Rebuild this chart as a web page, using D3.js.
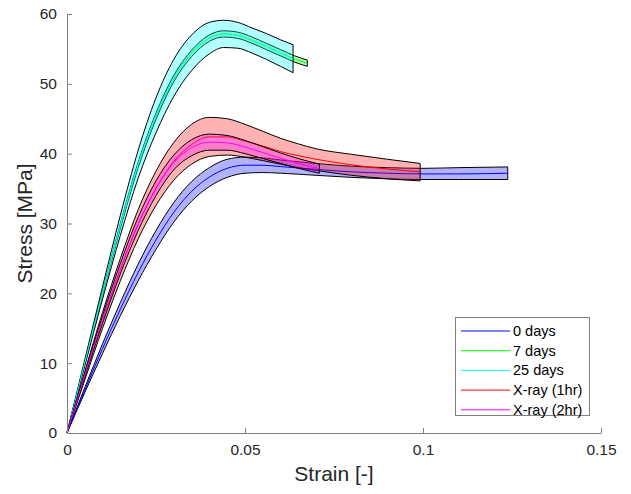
<!DOCTYPE html>
<html>
<head>
<meta charset="utf-8">
<script src="https://cdn.jsdelivr.net/npm/d3@7"></script>
<style>
  body { margin: 0; background: #fff; }
  text { font-family: "Liberation Sans", Arial, sans-serif; }
</style>
</head>
<body>
<div id="chart"></div>
<script>
// ---- data ----
const seriesNames = ["0 days", "7 days", "25 days", "X-ray (1hr)", "X-ray (2hr)"];
const seriesColors = ["#0000ff", "#00ff00", "#00ffff", "#ff0000", "#ff00ff"];

// 0 days
const strain0 = [0, 0.005, 0.01, 0.015, 0.02, 0.025, 0.03, 0.035, 0.04, 0.045, 0.05, 0.055, 0.06, 0.07, 0.08, 0.09, 0.1, 0.11, 0.1238];
const upper0  = [0, 6.5, 12.8, 18.7, 24.2, 29, 33, 36, 38, 39.2, 39.5, 39.4, 39.1, 38.6, 38.2, 38, 37.9, 38, 38.1];
const mean0   = [0, 6.15, 12.1, 17.75, 23, 27.65, 31.6, 34.6, 36.65, 37.9, 38.35, 38.35, 38.15, 37.75, 37.4, 37.2, 37.1, 37.1, 37.2];
const lower0  = [0, 5.8, 11.4, 16.8, 21.8, 26.3, 30.2, 33.2, 35.3, 36.6, 37.2, 37.3, 37.2, 36.9, 36.6, 36.4, 36.3, 36.3, 36.3];

// 7 days
const strain7 = [0, 0.005, 0.01, 0.015, 0.02, 0.025, 0.03, 0.035, 0.04, 0.044, 0.048, 0.052, 0.056, 0.06, 0.064, 0.0675];
const upper7  = [0, 10.2, 20.3, 30, 38.8, 45.8, 51.2, 54.8, 57, 57.6, 57.4, 56.7, 55.8, 54.9, 54, 53.4];
const mean7   = [0, 10.1, 20.05, 29.65, 38.4, 45.35, 50.75, 54.35, 56.55, 57.15, 56.95, 56.25, 55.35, 54.45, 53.55, 52.95];
const lower7  = [0, 10, 19.8, 29.3, 38, 44.9, 50.3, 53.9, 56.1, 56.7, 56.5, 55.8, 54.9, 54, 53.1, 52.5];

// 25 days
const strain25 = [0, 0.005, 0.01, 0.015, 0.02, 0.025, 0.03, 0.035, 0.04, 0.044, 0.048, 0.052, 0.056, 0.06, 0.0635];
const upper25  = [0, 10.5, 21, 31.2, 40.5, 48, 53.5, 57, 58.8, 59.1, 58.8, 58, 57.2, 56.3, 55.6];
const mean25   = [0, 10.05, 20.1, 29.75, 38.5, 45.5, 50.85, 54.45, 56.55, 57.15, 56.95, 56.2, 55.35, 54.4, 53.6];
const lower25  = [0, 9.6, 19.2, 28.3, 36.5, 43, 48.2, 51.9, 54.3, 55.2, 55.1, 54.4, 53.5, 52.5, 51.6];

// X-ray (1hr)
const strain1h = [0, 0.005, 0.01, 0.015, 0.02, 0.025, 0.03, 0.035, 0.04, 0.045, 0.05, 0.055, 0.06, 0.065, 0.07, 0.08, 0.09, 0.0992];
const upper1h  = [0, 8.8, 17.3, 25, 32, 37.5, 41.6, 44.2, 45.2, 45, 44.2, 43.2, 42.2, 41.4, 40.7, 39.9, 39.2, 38.6];
const mean1h   = [0, 8.2, 16.1, 23.4, 29.9, 35, 38.9, 41.3, 42.4, 42.4, 41.8, 41.1, 40.3, 39.7, 39.2, 38.4, 37.8, 37.4];
const lower1h  = [0, 7.6, 15, 21.8, 27.8, 32.6, 36.2, 38.5, 39.6, 39.8, 39.5, 39, 38.5, 38, 37.6, 36.9, 36.4, 36.1];

// X-ray (2hr)
const strain2h = [0, 0.005, 0.01, 0.015, 0.02, 0.025, 0.03, 0.035, 0.04, 0.045, 0.05, 0.055, 0.06, 0.065, 0.0709];
const upper2h  = [0, 8.6, 16.8, 24.3, 30.9, 36.1, 39.8, 42, 42.8, 42.6, 41.9, 41, 40.1, 39.3, 38.5];
const mean2h   = [0, 8.3, 16.25, 23.55, 29.95, 35.05, 38.75, 40.85, 41.65, 41.55, 40.95, 40.15, 39.35, 38.6, 37.85];
const lower2h  = [0, 8, 15.7, 22.8, 29, 34, 37.7, 39.7, 40.5, 40.5, 40, 39.3, 38.6, 37.9, 37.2];

const xTicks = [0, 0.05, 0.1, 0.15];
const yTicks = [0, 10, 20, 30, 40, 50, 60];

// ---- layout ----
const width = 631, height = 494;
const plotLeft = 67, plotRight = 601, plotTop = 14, plotBottom = 433;

const svg = d3.select("#chart").append("svg")
    .attr("width", width)
    .attr("height", height);

const x = d3.scaleLinear().domain([0, 0.15]).range([plotLeft, plotRight]);
const y = d3.scaleLinear().domain([0, 60]).range([plotBottom, plotTop]);

const groups = [
    {strain: strain0, upper: upper0, mean: mean0, lower: lower0},
    {strain: strain7, upper: upper7, mean: mean7, lower: lower7},
    {strain: strain25, upper: upper25, mean: mean25, lower: lower25},
    {strain: strain1h, upper: upper1h, mean: mean1h, lower: lower1h},
    {strain: strain2h, upper: upper2h, mean: mean2h, lower: lower2h}
];

const plot = svg.append("g");

groups.forEach((g, k) => {
    const pts = g.strain.map((s, i) => ({s: s, u: g.upper[i], m: g.mean[i], l: g.lower[i]}));

    // shaded band with black outline
    const band = d3.area()
        .x(d => x(d.s))
        .y0(d => y(d.l))
        .y1(d => y(d.u))
        .curve(d3.curveMonotoneX);

    plot.append("path")
        .attr("d", band(pts))
        .attr("fill", seriesColors[k])
        .attr("fill-opacity", 0.3)
        .attr("stroke", "#000")
        .attr("stroke-width", 1)
        .attr("stroke-linejoin", "round");

    // mean curve
    const line = d3.line()
        .x(d => x(d.s))
        .y(d => y(d.m))
        .curve(d3.curveMonotoneX);

    plot.append("path")
        .attr("d", line(pts))
        .attr("fill", "none")
        .attr("stroke", seriesColors[k])
        .attr("stroke-width", 1);
});

// ---- axes (MATLAB style, ticks inside, no box) ----
const xAxis = svg.append("g")
    .attr("transform", `translate(0,${plotBottom})`)
    .call(d3.axisBottom(x).tickValues(xTicks).tickFormat(d => d3.format("")(d)).tickSizeInner(-5).tickSizeOuter(0).tickPadding(11));

const yAxis = svg.append("g")
    .attr("transform", `translate(${plotLeft},0)`)
    .call(d3.axisLeft(y).tickValues(yTicks).tickSizeInner(-5).tickSizeOuter(0).tickPadding(10));

[xAxis, yAxis].forEach(a => {
    a.select(".domain").attr("stroke", "#808080").attr("stroke-width", 1);
    a.selectAll(".tick line").attr("stroke", "#808080");
    a.selectAll(".tick text")
        .attr("fill", "#262626")
        .style("font-size", "15.5px")
        .style("font-family", "'Liberation Sans', Arial, sans-serif");
});

// axis labels
svg.append("text")
    .attr("x", (plotLeft + plotRight) / 2)
    .attr("y", 481)
    .attr("text-anchor", "middle")
    .attr("fill", "#262626")
    .style("font-size", "21px")
    .text("Strain [-]");

svg.append("text")
    .attr("transform", `translate(32,${(plotTop + plotBottom) / 2}) rotate(-90)`)
    .attr("text-anchor", "middle")
    .attr("fill", "#262626")
    .style("font-size", "21px")
    .text("Stress [MPa]");

// ---- legend ----
const legend = svg.append("g");
legend.append("rect")
    .attr("x", 455.5)
    .attr("y", 317.5)
    .attr("width", 134)
    .attr("height", 98)
    .attr("fill", "#fff")
    .attr("stroke", "#808080")
    .attr("stroke-width", 1);

seriesNames.forEach((name, i) => {
    const ly = 331 + i * 19.7;
    legend.append("line")
        .attr("x1", 461)
        .attr("x2", 510)
        .attr("y1", ly)
        .attr("y2", ly)
        .attr("stroke", seriesColors[i])
        .attr("stroke-width", 1);
    legend.append("text")
        .attr("x", 513)
        .attr("y", ly)
        .attr("dy", "0.35em")
        .attr("fill", "#000")
        .style("font-size", "14.5px")
        .text(name);
});
</script>
</body>
</html>
